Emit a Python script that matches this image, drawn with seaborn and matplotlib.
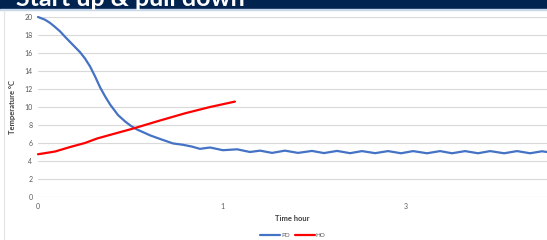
import numpy as np
import pandas as pd
import matplotlib
matplotlib.use('Agg')
import matplotlib.pyplot as plt
import seaborn as sns

# chart values (x in axis units, label "0","1","3" at 0,1,2)
pd_time = [0, 0.038, 0.065, 0.092, 0.120, 0.147, 0.185, 0.228, 0.255, 0.283, 0.310,
           0.337, 0.364, 0.391, 0.435, 0.473, 0.505,
           0.538, 0.582, 0.609, 0.663, 0.734, 0.788, 0.837, 0.880, 0.935, 1.005,
           1.082, 1.152, 1.207, 1.272, 1.342, 1.413, 1.489, 1.554, 1.625, 1.696,
           1.761, 1.832, 1.902, 1.973, 2.038, 2.114, 2.185, 2.250, 2.321, 2.391,
           2.457, 2.533, 2.603, 2.674, 2.739, 2.766]
pd_temp = [20.0, 19.7, 19.35, 18.9, 18.4, 17.8, 17.0, 16.1, 15.4, 14.5, 13.4,
           12.2, 11.2, 10.3, 9.1, 8.4, 7.9,
           7.5, 7.1, 6.85, 6.45, 5.95, 5.8, 5.6, 5.35, 5.5, 5.2,
           5.3, 5.0, 5.15, 4.9, 5.15, 4.9, 5.12, 4.88, 5.12, 4.87,
           5.1, 4.87, 5.1, 4.86, 5.1, 4.86, 5.1, 4.86, 5.1, 4.86,
           5.1, 4.86, 5.1, 4.86, 5.08, 5.0]

ho_time = [0, 0.092, 0.174, 0.255, 0.321, 0.418, 0.516, 0.663, 0.799, 0.935, 1.07]
ho_temp = [4.75, 5.05, 5.55, 6.0, 6.5, 7.05, 7.6, 8.5, 9.3, 10.0, 10.6]

series_names = ['PD', 'HO']
colors = ['#4472C4', '#FF0000']
xtick_pos = [0, 1, 2]
xtick_labels = ['0', '1', '3']
yticks = list(range(0, 21, 2))
title = 'Start up & pull down'

df = pd.concat([
    pd.DataFrame({'time': pd_time, 'temp': pd_temp, 'series': 'PD'}),
    pd.DataFrame({'time': ho_time, 'temp': ho_temp, 'series': 'HO'}),
])

sns.set_style('white')
plt.rcParams['font.family'] = ['Lato', 'DejaVu Sans']

fig = plt.figure(figsize=(5.47, 2.4), dpi=100)
ax = fig.add_axes([38 / 547, 43 / 240, 509 / 547, 180 / 240])

sns.lineplot(data=df, x='time', y='temp', hue='series', hue_order=series_names,
             palette=colors, sort=False, linewidth=1.6, ax=ax, legend=False)
for ln in ax.lines:
    ln.set_clip_on(False)
    ln.set_solid_joinstyle('round')

ax.set_xlim(0, 2.766)
ax.set_ylim(0, 20)
ax.set_yticks(yticks)
ax.set_xticks(xtick_pos)
ax.set_xticklabels(xtick_labels)
ax.yaxis.grid(True, color='#D9D9D9', linewidth=0.8)
ax.xaxis.grid(False)
ax.set_axisbelow(True)
for s in ax.spines.values():
    s.set_visible(False)
ax.tick_params(axis='both', length=0, labelsize=5, labelcolor='#595959', pad=4)
ax.set_xlabel('Time hour', fontsize=5.5, fontweight='bold', color='#404040', labelpad=4)
ax.set_ylabel('Temperature °C', fontsize=5.5, fontweight='bold', color='#404040', labelpad=6)

# legend under the chart
handles = [plt.Line2D([], [], color=c, linewidth=1.6) for c in colors]
fig.legend(handles, series_names, loc='lower center', bbox_to_anchor=(0.535, -0.015),
           ncol=2, frameon=False, fontsize=4.5, handlelength=3.2, handletextpad=0.1,
           columnspacing=0.8, labelcolor='#595959')

# navy banner at the top with the cut-off slide title (cut off in the original too)
fig.patches.append(plt.Rectangle((0, 1 - 9 / 240), 1, 9 / 240, transform=fig.transFigure,
                                 color='#00234F', zorder=0))
fig.patches.append(plt.Rectangle((0, 1 - 10 / 240), 1, 1 / 240, transform=fig.transFigure,
                                 color='#C9D7EA', zorder=0))
fig.lines.append(plt.Line2D([4 / 547, 4 / 547], [0, 1 - 10 / 240], transform=fig.transFigure,
                            color='#E3E3E3', linewidth=0.8))
fig.text(16 / 547, 1 - 6 / 240, title, color='white', fontsize=18, fontweight='bold',
         ha='left', va='baseline')

fig.savefig('out.png', dpi=100)
